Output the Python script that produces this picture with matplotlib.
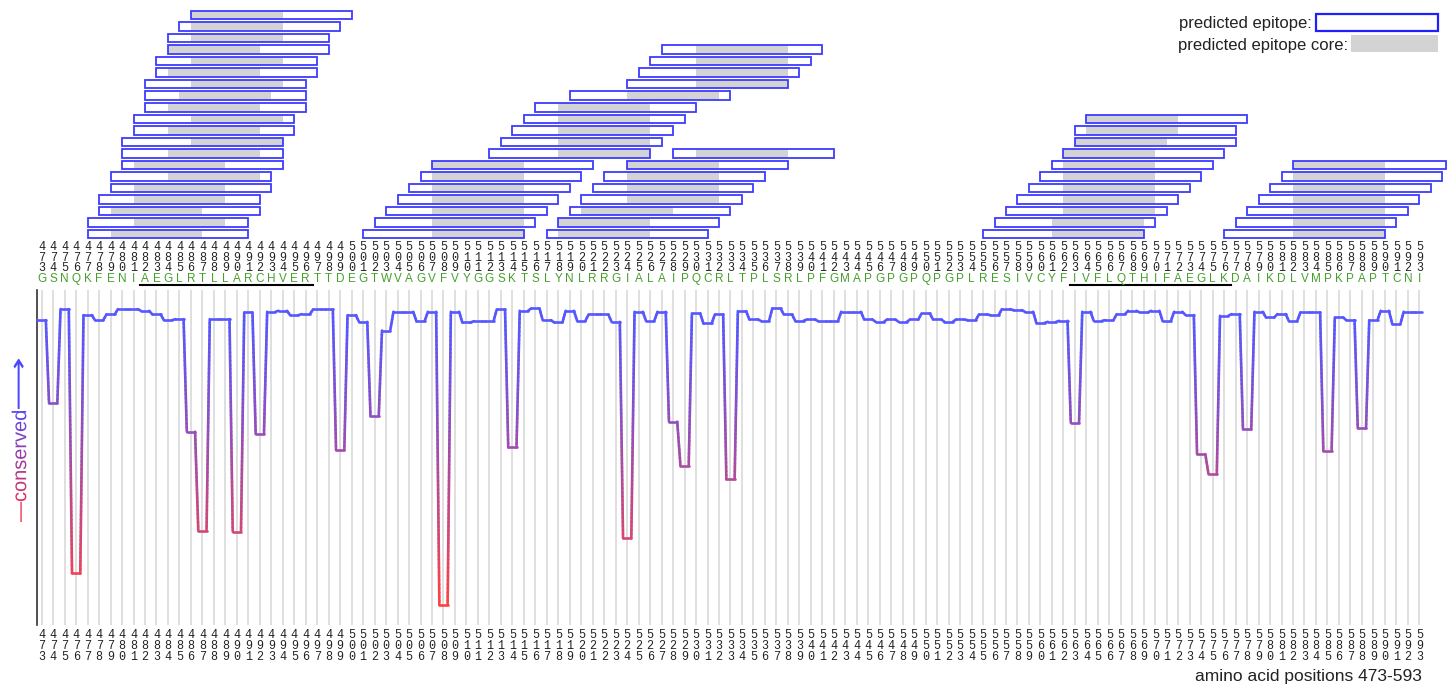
import numpy as np
import matplotlib
matplotlib.use("Agg")
import matplotlib.pyplot as plt
from matplotlib.collections import LineCollection
from matplotlib.colors import LinearSegmentedColormap, Normalize
from matplotlib.patches import Rectangle, PathPatch
from matplotlib.textpath import TextPath
from matplotlib.font_manager import FontProperties
from matplotlib.transforms import Affine2D, blended_transform_factory
from matplotlib.path import Path

# residues shown
first_pos = 473
last_pos = 593
sequence = ("GSNQKFENI" "AEGLRTLLARCHVER" "TTDEGTWVAGVFVYGG" "SKTSLYNLRRGIALAI"
            "PQCRLTPLSRLPFGMA" "PGPGPQPGPLRESIVCYF" "IVFLQTHIFAEGLK" "DAIKDLVMPKPAPTCNI")

# conservation score per residue (1 = top of plot)
conservation = [
    0.910, 0.662, 0.943, 0.154, 0.925, 0.910, 0.927, 0.943, 0.943, 0.938,  # 473-482
    0.927, 0.910, 0.913, 0.577, 0.282, 0.913, 0.913, 0.279, 0.933, 0.570,  # 483-492
    0.935, 0.938, 0.925, 0.928, 0.942, 0.942, 0.522, 0.925, 0.905, 0.624,  # 493-502
    0.879, 0.935, 0.935, 0.907, 0.935, 0.060, 0.935, 0.903, 0.907, 0.907,  # 503-512
    0.942, 0.530, 0.938, 0.945, 0.910, 0.903, 0.938, 0.908, 0.927, 0.927,  # 513-522
    0.905, 0.259, 0.935, 0.908, 0.935, 0.607, 0.476, 0.930, 0.900, 0.927,  # 523-532
    0.435, 0.937, 0.912, 0.908, 0.945, 0.927, 0.908, 0.912, 0.907, 0.907,  # 533-542
    0.935, 0.935, 0.912, 0.905, 0.912, 0.905, 0.912, 0.930, 0.912, 0.905,  # 543-552
    0.912, 0.910, 0.927, 0.925, 0.943, 0.940, 0.935, 0.902, 0.905, 0.908,  # 553-562
    0.604, 0.935, 0.908, 0.910, 0.928, 0.938, 0.933, 0.938, 0.907, 0.935,  # 563-572
    0.925, 0.510, 0.450, 0.923, 0.928, 0.584, 0.935, 0.918, 0.928, 0.907,  # 573-582
    0.933, 0.933, 0.520, 0.918, 0.910, 0.587, 0.910, 0.938, 0.899, 0.935,  # 583-592
    0.935,                                                                 # 593
]

underlined = [(482, 496), (563, 576)]

# predicted epitopes (15-mers) with their 9-mer cores, and the stacking row
epitope_start = [486, 485, 484, 484, 483, 483, 482, 482, 482, 481,
                 481, 480, 480, 480, 479, 479, 478, 478, 477, 477,
                 527, 526, 525, 524, 519, 516, 515, 514, 513, 512,
                 507, 506, 505, 504, 503, 502, 501,
                 528, 524, 522, 521, 520, 519, 518, 517,
                 564, 563, 563, 562, 561, 560, 559, 558, 557, 556, 555,
                 582, 581, 580, 579, 578, 577, 576]
core_start = [486, 486, 486, 484, 486, 484, 486, 485, 484, 486,
              484, 486, 484, 481, 484, 481, 481, 479, 481, 479,
              530, 530, 530, 530, 524, 518, 518, 518, 518, 518,
              507, 507, 507, 507, 507, 507, 507,
              530, 524, 524, 524, 524, 520, 518, 518,
              564, 564, 563, 562, 562, 562, 562, 562, 562, 561, 561,
              582, 582, 582, 582, 582, 582, 582]
epitope_row = [1, 2, 3, 4, 5, 6, 7, 8, 9, 10,
               11, 12, 13, 14, 15, 16, 17, 18, 19, 20,
               4, 5, 6, 7, 8, 9, 10, 11, 12, 13,
               14, 15, 16, 17, 18, 19, 20,
               13, 14, 15, 16, 17, 18, 19, 20,
               10, 11, 12, 13, 14, 15, 16, 17, 18, 19, 20,
               14, 15, 16, 17, 18, 19, 20]
epitope_len = 15
core_len = 9

W, H = 1453, 685
px_per_res = 11.48
x_left = first_pos - 41.7 / px_per_res
xlim = (x_left, x_left + W / px_per_res)

def up(y_px):
    return H - y_px

cmap = LinearSegmentedColormap.from_list("cons", ["#ff4242", "#5757ff"])
norm = Normalize(0.05, 0.9)

fig = plt.figure(figsize=(W / 100, H / 100), dpi=100)

# epitope stack
ax_top = fig.add_axes([0, (H - 240) / H, 1, 235 / H])
ax_top.set_xlim(*xlim)
ax_top.set_ylim(20.51, 0.133)
ax_top.set_axis_off()
x_clip = x_left + 1446 / px_per_res
bh = 0.74
for s, c, r in zip(epitope_start, core_start, epitope_row):
    end = min(s + epitope_len - 1, x_clip)
    ax_top.add_patch(Rectangle((s, r - bh / 2), end - s, bh, facecolor="white",
                               edgecolor="none", zorder=1))
    ax_top.add_patch(Rectangle((c, r - bh / 2), core_len - 1, bh, facecolor="#d3d3d3",
                               edgecolor="none", zorder=2))
    ax_top.add_patch(Rectangle((s, r - bh / 2), end - s, bh, facecolor="none",
                               edgecolor="#3c3cff", lw=1.3, zorder=3))

# conservation plot
ax = fig.add_axes([0, 60 / H, 1, 335 / H])
ax.set_xlim(*xlim)
ax.set_ylim(0, 1)
for side in ["top", "right", "bottom"]:
    ax.spines[side].set_visible(False)
ax.spines["left"].set_position(("data", first_pos - 0.45))
ax.spines["left"].set_color("#333333")
ax.spines["left"].set_linewidth(1.2)
ax.set_xticks([])
ax.set_yticks([])
ax.patch.set_alpha(0)

pos = np.arange(first_pos, last_pos + 1)
cons = np.array(conservation)
ax.vlines(pos, 0, 1, color="#d6d6d6", lw=1.1, zorder=1)

half = 0.36
xs = np.repeat(pos, 2) + np.tile([-half, half], len(pos))
ys = np.repeat(cons, 2)
xs[0] = first_pos - 0.45
xs[-1] = last_pos + 0.25
dense_x, dense_y = [xs[0]], [ys[0]]
for i in range(len(xs) - 1):
    n = int(abs(ys[i + 1] - ys[i]) * 80) + 2
    dense_x.extend(np.linspace(xs[i], xs[i + 1], n)[1:])
    dense_y.extend(np.linspace(ys[i], ys[i + 1], n)[1:])
pts = np.column_stack([dense_x, dense_y])
segs = np.stack([pts[:-1], pts[1:]], axis=1)
lc = LineCollection(segs, colors=cmap(norm((pts[:-1, 1] + pts[1:, 1]) / 2)),
                    linewidths=1.9, capstyle="round", joinstyle="round", zorder=3)
ax.add_collection(lc)

# overlay in pixel units for labels
ax_ov = fig.add_axes([0, 0, 1, 1])
ax_ov.set_axis_off()
trans = blended_transform_factory(ax.transData, ax_ov.transData)

top_digit_base = [250, 260.5, 271]
bottom_digit_base = [638, 649, 659.5]
for p, aa in zip(pos, sequence):
    s = str(p)
    for k in range(3):
        ax.text(p, up(top_digit_base[k]), s[k], transform=trans, ha="center",
                va="baseline", fontsize=8.5, family="Liberation Mono", color="#222222")
        ax.text(p, up(bottom_digit_base[k]), s[k], transform=trans, ha="center",
                va="baseline", fontsize=8.5, family="Liberation Mono", color="#222222")
    ax.text(p, up(282), aa, transform=trans, ha="center", va="baseline",
            fontsize=8.5, family="Liberation Sans", color="#44a02a")

for a, b in underlined:
    ax.plot([a - 0.4, b + 0.6], [up(284.5)] * 2, transform=trans, color="black",
            lw=1.5, clip_on=False)

ax_ov.text(1422, up(681), "amino acid positions %d-%d" % (first_pos, last_pos),
           ha="right", va="baseline", fontsize=12.5, family="Liberation Sans",
           color="#222222")

# legend
ax_ov.text(1312, up(28), "predicted epitope:", ha="right", va="baseline",
           fontsize=12, family="Liberation Sans", color="#222222")
ax_ov.add_patch(Rectangle((1316, up(31)), 122, 17, facecolor="white",
                          edgecolor="#2020ff", lw=1.6))
ax_ov.text(1348, up(50), "predicted epitope core:", ha="right", va="baseline",
           fontsize=12, family="Liberation Sans", color="#222222")
ax_ov.add_patch(Rectangle((1351, up(52)), 87, 17, facecolor="#d3d3d3",
                          edgecolor="none"))

# rotated "conserved" label with a red-to-blue gradient
p_txt = TextPath((0, 0), "\u2014conserved", size=20,
                 prop=FontProperties(family="Liberation Sans"))
p_arr = TextPath((0, 0), "\u27f6", size=24, prop=FontProperties(family="DejaVu Sans"))
et = p_txt.get_extents()
ea = p_arr.get_extents()
p_arr = (Affine2D().translate(-ea.x0, 0).scale(50 / ea.width, 1)
         .translate(et.x1 + 2, 0)).transform_path(p_arr)
label = Path.make_compound_path(p_txt, p_arr)
lb = label.get_extents()
label = (Affine2D().rotate_deg(90)
         .translate(19 + (lb.y0 + lb.y1) / 2, up(522))).transform_path(label)
patch = PathPatch(label, facecolor="none", edgecolor="none", transform=ax_ov.transData)
ax_ov.add_patch(patch)
yy = np.linspace(up(530), up(350), 200)
grad = np.clip((yy - up(515)) / (up(400) - up(515)), 0, 1).reshape(-1, 1)
im = ax_ov.imshow(grad, extent=[0, 40, up(530), up(350)], origin="lower",
                  cmap=LinearSegmentedColormap.from_list("lab", ["#f0304a", "#4848ff"]),
                  aspect="auto", interpolation="bilinear")
im.set_clip_path(patch)
ax_ov.set_xlim(0, W)
ax_ov.set_ylim(0, H)

fig.savefig("out.png", dpi=100)
